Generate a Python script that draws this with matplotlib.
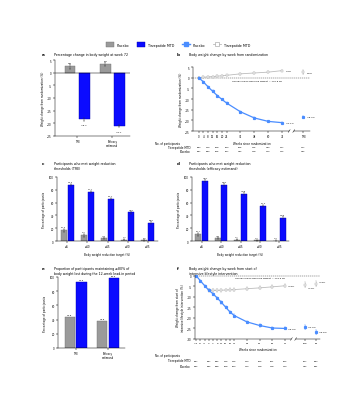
import matplotlib
matplotlib.use("Agg")
import matplotlib.pyplot as plt
from matplotlib.patches import Patch
from matplotlib.lines import Line2D
from matplotlib.transforms import blended_transform_factory
import numpy as np

# Colours
GREY = "#9a9a9a"
GREY_EDGE = "#6f6f6f"
BLUE = "#0b0bff"
LBLUE = "#4a8dff"
LGREY = "#bcbcbc"

# Panel a: change at week 72
a_groups = ["TRE", "Efficacy\nestimand"]
a_placebo = [2.5, 3.3]
a_placebo_err = [0.9, 0.8]
a_tirz = [-18.4, -21.1]
a_tirz_err = [0.6, 0.5]

# Panel b: change by week from randomization
b_weeks = [0, 4, 8, 12, 16, 20, 24, 36, 48, 60, 72]
b_placebo = [0, 0.2, 0.4, 0.5, 0.7, 0.9, 1.1, 1.8, 2.2, 2.6, 3.3]
b_tirz = [0, -2.0, -4.3, -6.4, -8.4, -10.2, -11.9, -16.0, -18.9, -20.5, -21.1]
b_tre_placebo = 2.5
b_tre_tirz = -18.4
b_table_weeks = [0, 8, 16, 24, 36, 48, 60, 72, "TRE"]
b_n_tirz = [284, 279, 268, 263, 255, 245, 233, 227, 247]
b_n_placebo = [287, 283, 265, 257, 232, 218, 213, 212, 232]

# Panels c, d: weight-reduction thresholds
thr_labels = ["≥5", "≥10", "≥15", "≥20", "≥25"]
c_placebo = [16.5, 8.9, 4.3, 2.2, 1.2]
c_tirz = [87.5, 76.7, 65.4, 44.7, 28.7]
d_placebo = [10.7, 4.8, 2.1, 1.0, 0.3]
d_tirz = [94.4, 88.0, 73.9, 54.9, 36.3]

# Panel e: maintained >=80% of lead-in weight loss
e_groups = ["TRE", "Efficacy\nestimand"]
e_placebo = [43.8, 37.8]
e_tirz = [93.5, 98.6]

# Panel f: change by week from start of lifestyle intervention
f_weeks = [-12, -8, -4, 0, 4, 8, 12, 16, 20, 24, 36, 48, 60, 72]
f_tirz = [0, -2.4, -4.7, -6.9, -8.6, -10.6, -12.7, -15.0, -17.2, -18.9,
          -21.9, -23.6, -24.8, -25.0]
f_placebo_weeks = [0, 4, 8, 12, 16, 20, 24, 36, 48, 60, 72]
f_placebo = [-6.9, -7.0, -7.0, -6.9, -6.8, -6.7, -6.6, -6.2, -5.8, -5.3, -4.8]
f_tre_tirz, f_ee_tirz = -24.3, -26.6
f_tre_placebo, f_ee_placebo = -4.2, -3.8
f_table_weeks = [-12, 0, 8, 16, 24, 36, 48, 60, 72, "TRE", "EE"]
f_n_tirz = [287, 287, 282, 276, 276, 273, 266, 261, 252, 267, 284]
f_n_placebo = [292, 292, 288, 268, 263, 243, 228, 218, 213, 232, 281]

# Figure geometry (pixels)
W, H = 356, 406
fig = plt.figure(figsize=(W / 100, H / 100), dpi=100)
TICK = 1.9
LAB = 2.0
TIT = 2.35
VAL = 1.7


def fx(x):
    return x / W


def fy(y):
    return 1 - y / H


def axes_px(l, t, r, b):
    return fig.add_axes([l / W, 1 - b / H, (r - l) / W, (b - t) / H])


def style(ax):
    for s in ["top", "right"]:
        ax.spines[s].set_visible(False)
    for s in ["left", "bottom"]:
        ax.spines[s].set_linewidth(0.35)
    ax.tick_params(labelsize=TICK, width=0.35, length=1.2, pad=1)


def panel(letter, x, y, title):
    fig.text(fx(x), fy(y), letter, fontsize=3.0, fontweight="bold", va="top")
    fig.text(fx(x + 12), fy(y), title, fontsize=TIT, va="top", linespacing=1.2)


ekw = dict(lw=0.3, capsize=0.7, capthick=0.3, ecolor="#333333")


def grouped_bars(ax, placebo, tirz, labels, off, width):
    x = np.arange(len(labels))
    perr = [2.5 if v > 5 else 1.2 for v in placebo]
    ax.bar(x - off, placebo, width, color=GREY, edgecolor=GREY_EDGE, lw=0.3,
           yerr=perr, error_kw=ekw)
    ax.bar(x + off, tirz, width, color=BLUE, edgecolor="#0000aa", lw=0.3,
           yerr=2.0, error_kw=ekw)
    for xi, v, e in zip(x, placebo, perr):
        ax.text(xi - off, v + e + 2.5, f"{v:.1f}", fontsize=VAL, ha="center",
                va="bottom", color="#333333")
    for xi, v in zip(x, tirz):
        ax.text(xi + off, v + 4.5, f"{v:.1f}", fontsize=VAL, ha="center",
                va="bottom", color="#333333")
    ax.set_xticks(x)
    ax.set_xticklabels(labels)
    ax.set_ylim(0, 100)
    ax.set_yticks(range(0, 101, 20))
    ax.set_ylabel("Percentage of participants", fontsize=LAB, labelpad=2)
    style(ax)


def broken_axis(ax, left, brk, right):
    tr = blended_transform_factory(ax.transData, ax.transAxes)
    ax.spines["bottom"].set_visible(False)
    ax.plot([left, brk - 2], [0, 0], color="black", lw=0.35, transform=tr, clip_on=False)
    ax.plot([brk + 2, right], [0, 0], color="black", lw=0.35, transform=tr, clip_on=False)
    for b in (brk - 2, brk + 2):
        ax.plot([b - 0.8, b + 0.8], [-0.02, 0.02], color="black", lw=0.35,
                transform=tr, clip_on=False)


def table(ax, weeks, pos, n_tirz, n_plac, y_head, y1, y2, head_x):
    tr = blended_transform_factory(ax.transData, fig.transFigure)
    for w, a, b in zip(weeks, n_tirz, n_plac):
        xp = pos.get(w, w)
        ax.text(xp, fy(y1), str(a), transform=tr, fontsize=VAL, ha="center", va="center")
        ax.text(xp, fy(y2), str(b), transform=tr, fontsize=VAL, ha="center", va="center")
    fig.text(fx(head_x), fy(y_head), "No. of participants", fontsize=LAB, va="center")
    fig.text(fx(190), fy(y1), "Tirzepatide MTD", fontsize=LAB, va="center", ha="right")
    fig.text(fx(190), fy(y2), "Placebo", fontsize=LAB, va="center", ha="right")


# Legend at the top
handles = [
    Patch(facecolor=GREY, edgecolor=GREY_EDGE, lw=0.3),
    Patch(facecolor=BLUE, edgecolor="#0000aa", lw=0.3),
    Line2D([], [], color=LBLUE, lw=1.0, marker="s", ms=2.2),
    Line2D([], [], color=LGREY, lw=0.6, marker="s", ms=2.8, mfc="white", mec="#999999", mew=0.4),
]
fig.legend(handles, ["Placebo", "Tirzepatide MTD", "Placebo", "Tirzepatide MTD"],
           loc="center", bbox_to_anchor=(fx(178), fy(45.5)), ncol=4, fontsize=2.3,
           frameon=False, handlelength=2.6, handleheight=1.9, columnspacing=2.4,
           handletextpad=0.8)

# Panel a
panel("a", 42, 53, "Percentage change in body weight at week 72")
ax = axes_px(55, 61, 130, 137)
x = np.arange(len(a_groups))
ax.bar(x - 0.2, a_placebo, 0.3, color=GREY, edgecolor=GREY_EDGE, lw=0.3,
       yerr=a_placebo_err, error_kw=ekw)
ax.bar(x + 0.2, a_tirz, 0.3, color=BLUE, edgecolor="#0000aa", lw=0.3,
       yerr=a_tirz_err, error_kw=ekw)
for xi, v, e in zip(x, a_placebo, a_placebo_err):
    ax.text(xi - 0.2, v + e + 0.4, f"{v:.1f}", fontsize=VAL, ha="center", va="bottom")
for xi, v, e in zip(x, a_tirz, a_tirz_err):
    ax.text(xi + 0.2, v - e - 1.3, f"{v:.1f}".replace("-", "–"), fontsize=VAL,
            ha="center", va="top")
ax.axhline(0, color="black", lw=0.35)
ax.set_xlim(-0.63, 1.5)
ax.set_ylim(-25, 5)
ax.set_yticks(range(-25, 6, 5))
ax.set_yticklabels([str(v).replace("-", "–") for v in range(-25, 6, 5)])
ax.set_xticks(x)
ax.set_xticklabels(a_groups, linespacing=1.1)
ax.set_ylabel("Weight change from randomization (%)", fontsize=LAB, labelpad=2)
style(ax)

# Panel b
panel("b", 177, 53, "Body weight change by week from randomization")
ax = axes_px(193, 68, 310, 132)
TRE_B = 90
ax.axhline(0, color="#444444", lw=0.35, ls=(0, (2.5, 1.5)))
ax.errorbar(b_weeks, b_placebo, yerr=0.35, color=LGREY, lw=0.6, marker="s", ms=1.5,
            mfc="white", mec="#aaaaaa", mew=0.35, elinewidth=0.3, capsize=0.6, capthick=0.3)
ax.errorbar(b_weeks, b_tirz, yerr=0.4, color=LBLUE, lw=0.9, marker="s", ms=1.3,
            elinewidth=0.3, capsize=0.6, capthick=0.3)
ax.errorbar([TRE_B], [b_tre_placebo], yerr=0.9, color=LGREY, marker="s", ms=1.5,
            mfc="white", mec="#aaaaaa", mew=0.35, elinewidth=0.4, capsize=0.8, capthick=0.3)
ax.errorbar([TRE_B], [b_tre_tirz], yerr=0.6, color=LBLUE, marker="s", ms=1.3,
            elinewidth=0.4, capsize=0.8, capthick=0.3)
ax.text(75, b_placebo[-1], "3.3%", fontsize=VAL, va="center")
ax.text(75, b_tirz[-1], "–21.1%", fontsize=VAL, va="center")
ax.text(TRE_B + 3, b_tre_placebo, "2.5%", fontsize=VAL, va="center")
ax.text(TRE_B + 3, b_tre_tirz, "–18.4%", fontsize=VAL, va="center")
ax.text(72, -0.8, "Overall mean baseline weight = 101.8 kg", fontsize=VAL,
        ha="right", va="top")
ax.set_xlim(-5, 96)
ax.set_ylim(-25, 5)
ax.set_yticks(range(-25, 6, 5))
ax.set_yticklabels([str(v).replace("-", "–") for v in range(-25, 6, 5)])
ax.set_xticks(b_weeks + [TRE_B])
ax.set_xticklabels([str(w) for w in b_weeks] + ["TRE"])
ax.set_ylabel("Weight change from randomization (%)", fontsize=LAB, labelpad=2)
ax.set_xlabel("Weeks since randomization", fontsize=LAB, labelpad=2)
style(ax)
broken_axis(ax, -5, 80, 96)
table(ax, b_table_weeks, {"TRE": TRE_B}, b_n_tirz, b_n_placebo, 144, 148, 152, 155)

# Panel c
panel("c", 42, 162, "Participants who met weight-reduction\nthresholds (TRE)")
ax = axes_px(57, 178, 158, 242)
grouped_bars(ax, c_placebo, c_tirz, thr_labels, 0.17, 0.3)
ax.set_xlim(-0.5, 4.5)
ax.set_xlabel("Body weight reduction target (%)", fontsize=LAB, labelpad=3)

# Panel d
panel("d", 177, 162, "Participants who met weight-reduction\nthresholds (efficacy estimand)")
ax = axes_px(192, 178, 289, 242)
grouped_bars(ax, d_placebo, d_tirz, thr_labels, 0.17, 0.3)
ax.set_xlim(-0.5, 4.5)
ax.set_xlabel("Body weight reduction target (%)", fontsize=LAB, labelpad=3)

# Panel e
panel("e", 42, 267, "Proportion of participants maintaining ≥80% of\n"
      "body weight lost during the 12-week lead-in period")
ax = axes_px(58, 278, 125, 349)
x = np.arange(len(e_groups))
ax.bar(x - 0.18, e_placebo, 0.32, color=GREY, edgecolor=GREY_EDGE, lw=0.3)
ax.bar(x + 0.18, e_tirz, 0.32, color=BLUE, edgecolor="#0000aa", lw=0.3)
for xi, v in zip(x, e_placebo):
    ax.text(xi - 0.18, v + 2.5, f"{v:.1f}", fontsize=VAL, ha="center", va="bottom")
for xi, v in zip(x, e_tirz):
    ax.text(xi + 0.18, v + 2.5, f"{v:.1f}", fontsize=VAL, ha="center", va="bottom")
ax.set_xlim(-0.54, 1.52)
ax.set_ylim(0, 100)
ax.set_yticks(range(0, 101, 20))
ax.set_xticks(x)
ax.set_xticklabels(e_groups, linespacing=1.1)
ax.set_ylabel("Percentage of participants", fontsize=LAB, labelpad=2)
style(ax)

# Panel f
panel("f", 177, 267, "Body weight change by week from start of\nintensive lifestyle intervention")
ax = axes_px(195, 276, 320, 340)
TRE_F, EE_F = 91, 101
ax.axhline(0, color="#444444", lw=0.35, ls=(0, (2.5, 1.5)))
ax.errorbar(f_placebo_weeks, f_placebo, yerr=0.7, color=LGREY, lw=0.6, marker="s",
            ms=1.5, mfc="white", mec="#aaaaaa", mew=0.35, elinewidth=0.3, capsize=0.6,
            capthick=0.3)
ax.errorbar(f_weeks, f_tirz, yerr=0.5, color=LBLUE, lw=0.9, marker="s", ms=1.3,
            elinewidth=0.3, capsize=0.6, capthick=0.3)
ax.errorbar([TRE_F, EE_F], [f_tre_placebo, f_ee_placebo], yerr=1.1, color=LGREY,
            ls="none", marker="s", ms=1.5, mfc="white", mec="#aaaaaa", mew=0.35,
            elinewidth=0.4, capsize=0.8, capthick=0.3)
ax.errorbar([TRE_F, EE_F], [f_tre_tirz, f_ee_tirz], yerr=1.0, color=LBLUE,
            ls="none", marker="s", ms=1.3, elinewidth=0.4, capsize=0.8, capthick=0.3)
ax.text(75, f_placebo[-1], "–4.8%", fontsize=VAL, va="center")
ax.text(75, f_tirz[-1], "–25.0%", fontsize=VAL, va="center")
ax.text(TRE_F + 2.5, f_tre_placebo - 1.5, "–4.2%", fontsize=VAL, va="center")
ax.text(EE_F + 2.5, f_ee_placebo + 0.8, "–3.8%", fontsize=VAL, va="center")
ax.text(TRE_F + 2.5, f_tre_tirz, "–24.3%", fontsize=VAL, va="center")
ax.text(EE_F + 2.5, f_ee_tirz, "–26.6%", fontsize=VAL, va="center")
ax.text(72, -0.6, "Overall mean baseline weight = 109.5 kg", fontsize=VAL,
        ha="right", va="top")
ax.set_xlim(-13, 105)
ax.set_ylim(-30, 0.3)
ax.set_yticks(range(-30, 1, 5))
ax.set_yticklabels([str(v).replace("-", "–") for v in range(-30, 1, 5)])
ax.set_xticks(f_weeks + [TRE_F, EE_F])
ax.set_xticklabels([str(w).replace("-", "–") for w in f_weeks] + ["TRE", "EE"])
ax.set_ylabel("Weight change from start of\nintensive lifestyle intervention (%)",
              fontsize=LAB, labelpad=2, linespacing=1.1)
ax.set_xlabel("Weeks since randomization", fontsize=LAB, labelpad=3)
style(ax)
ax.tick_params(axis="x", labelsize=1.7)
broken_axis(ax, -13, 80, 105)
table(ax, f_table_weeks, {"TRE": TRE_F, "EE": EE_F}, f_n_tirz, f_n_placebo,
      356, 361.5, 367, 155)

fig.savefig("out.png", dpi=100)
